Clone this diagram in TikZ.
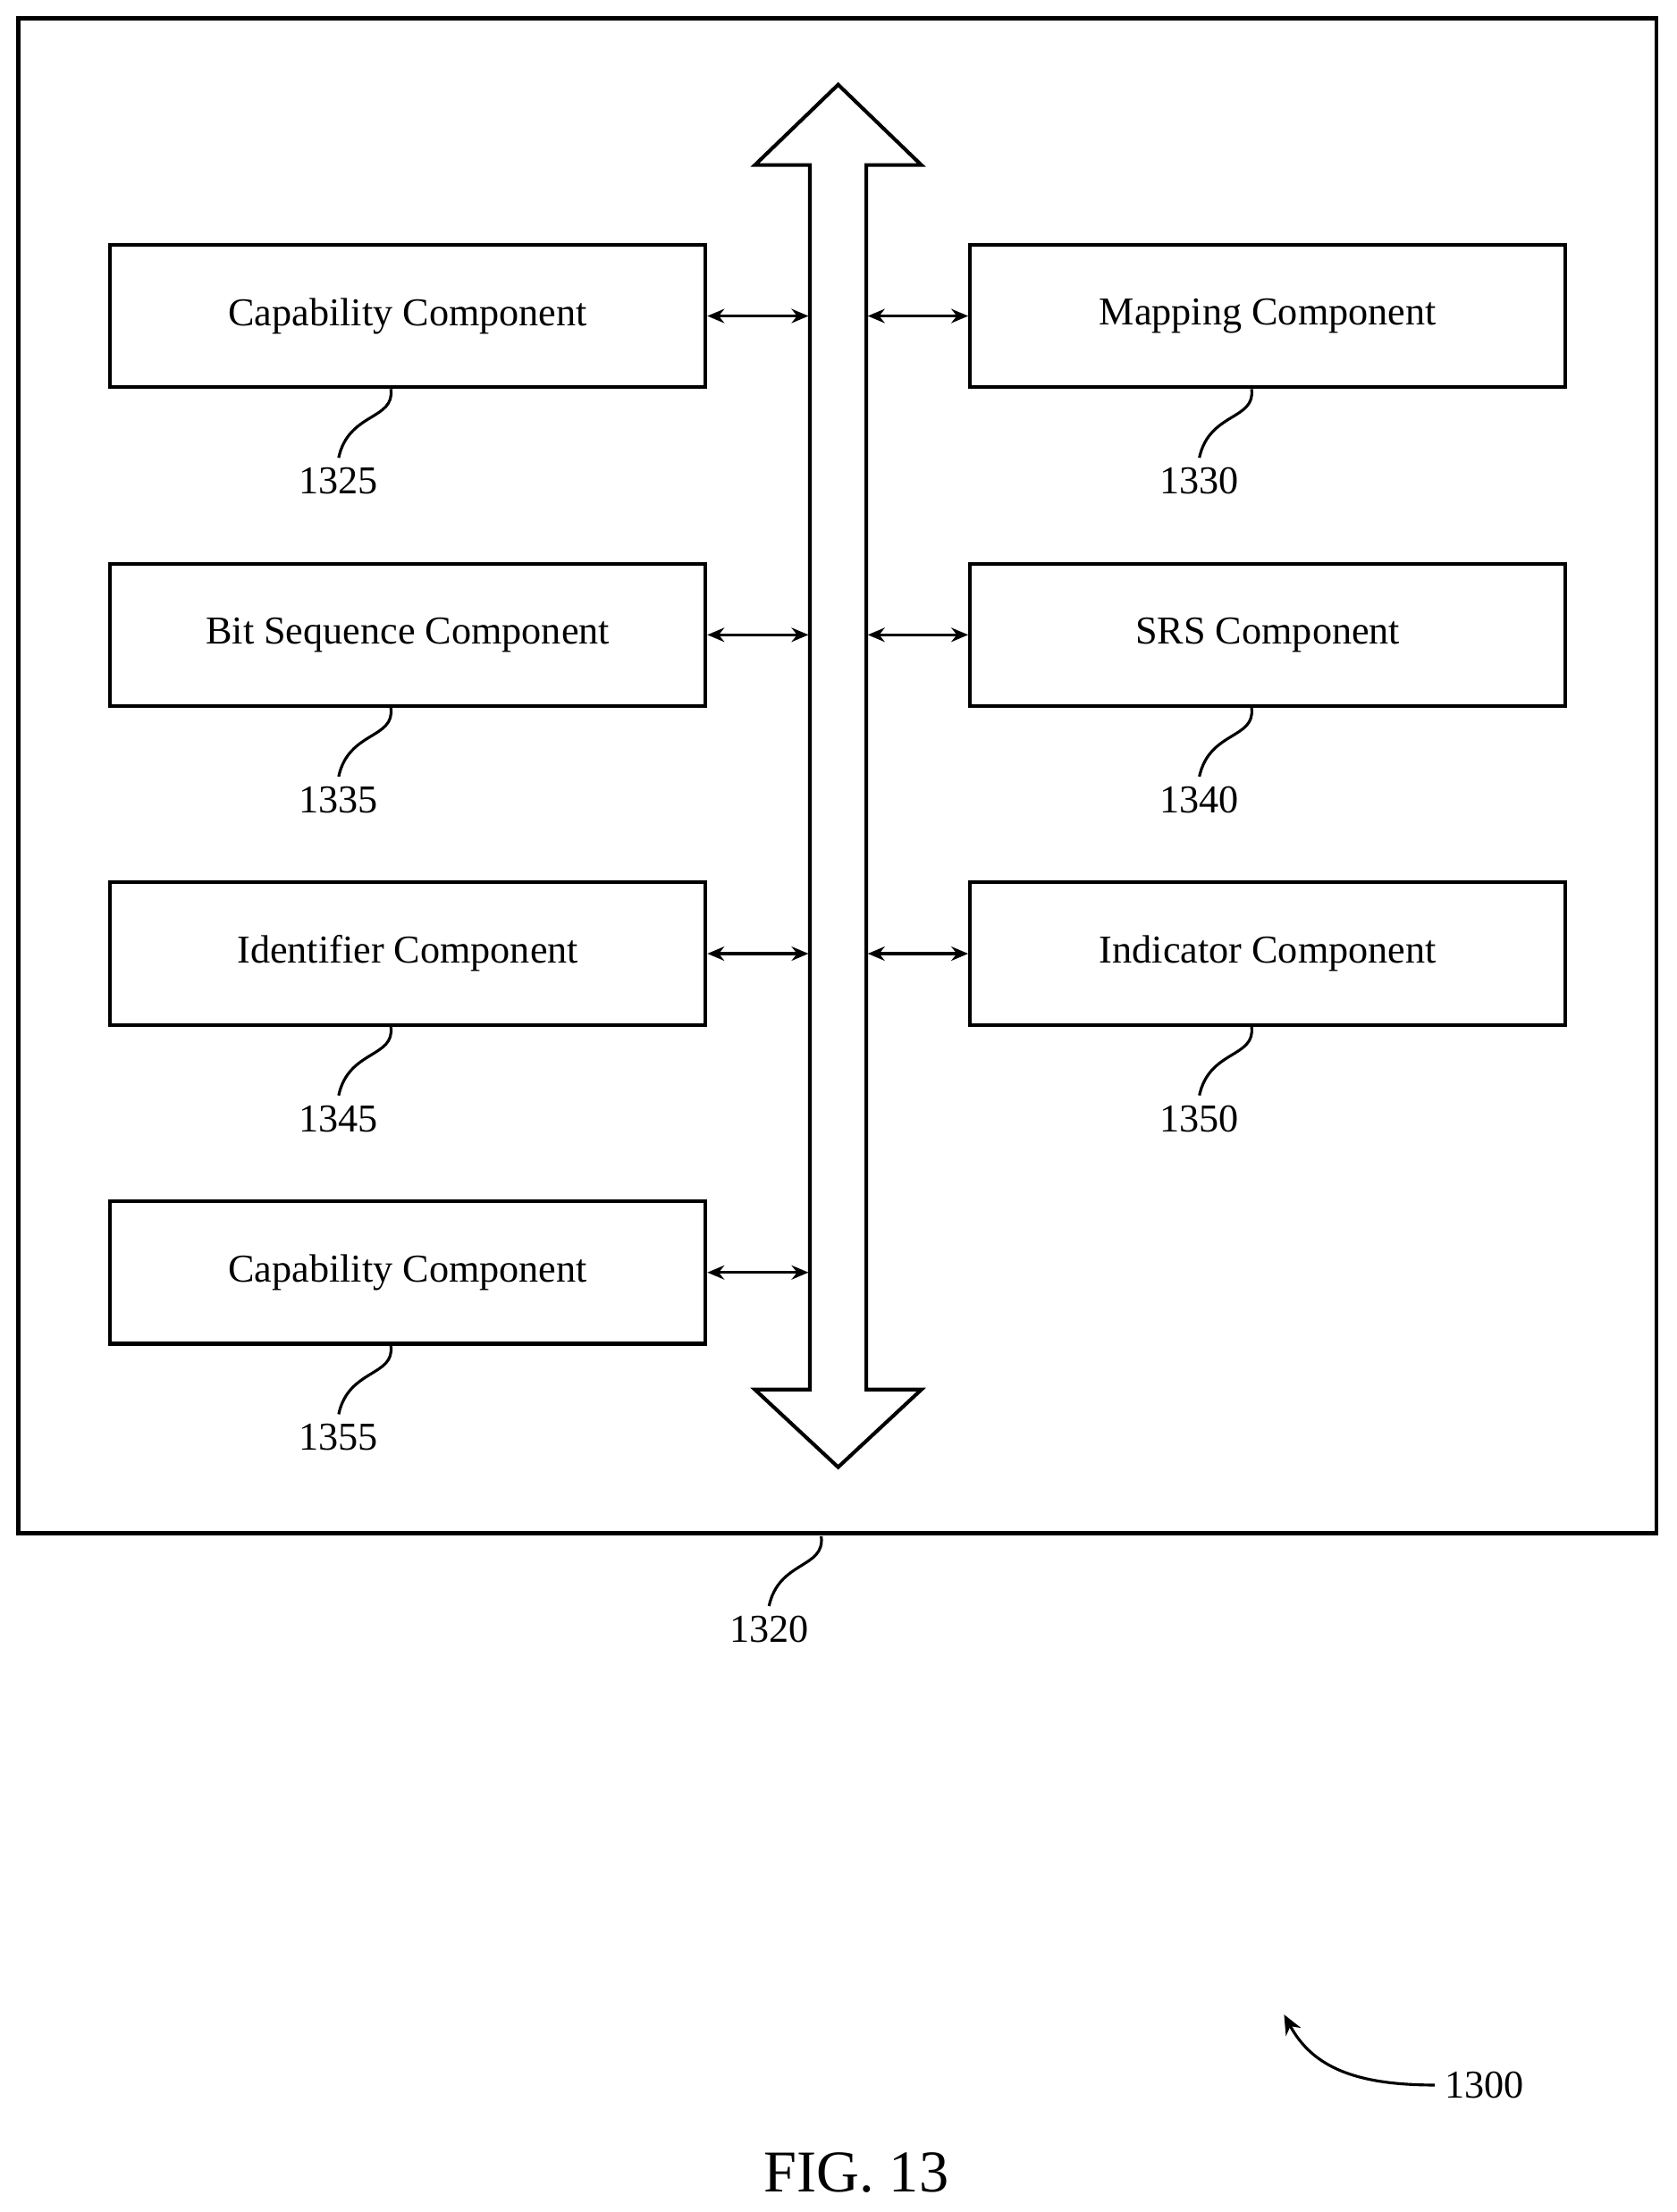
\documentclass[tikz,border=0pt]{standalone}
\usepackage{fontspec}
\setmainfont{Liberation Serif}
\usetikzlibrary{arrows.meta}
\begin{document}
\begin{tikzpicture}[x=0.5pt,y=-0.5pt,
  box/.style={draw,line width=1.3pt,minimum width=211pt,minimum height=50.5pt,inner sep=0,font=\fontsize{14}{16}\selectfont},
  lbl/.style={font=\fontsize{14}{16}\selectfont},
  conn/.style={line width=1pt,{Stealth[length=6pt,width=5pt]}-{Stealth[length=6pt,width=5pt]}},
  sq/.style={line width=1pt}]
\useasboundingbox (0,0) rectangle (1188,1568);
\draw[line width=1.5pt] (13,13) rectangle (1174,1087);
\coordinate (c1320) at (582,1089);
\draw[line width=1.3pt] (574,117) -- (535,117) -- (594,60) -- (653,117) -- (614,117) -- (614,985) -- (653,985) -- (594,1040) -- (535,985) -- (574,985) -- cycle;
\coordinate (bl) at (574,0); \coordinate (br) at (614,0);
\foreach \n/\t/\y/\num in {a/Capability Component/224/1325, b/Bit Sequence Component/450/1335, c/Identifier Component/676/1345, d/Capability Component/902/1355}{
  \node[box] (\n) at (289,\y) {\t};
  \coordinate (\n bus) at (573,\y);
  \draw[conn] (\n.east) -- (\n bus);
  \node[lbl] (\n l) at (240,\y+117) {\num};
  \draw[sq] (\n.south -| 277,0) .. controls (280,\y+74) and (247,\y+68) .. (\n l.north);
}
\foreach \n/\t/\y/\num in {e/Mapping Component/224/1330, f/SRS Component/450/1340, g/Indicator Component/676/1350}{
  \node[box] (\n) at (898.5,\y) {\t};
  \coordinate (\n bus) at (615,\y);
  \draw[conn] (\n.west) -- (\n bus);
  \node[lbl] (\n l) at (850,\y+117) {\num};
  \draw[sq] (\n.south -| 887,0) .. controls (890,\y+74) and (857,\y+68) .. (\n l.north);
}
\node[lbl] (l1320) at (545,1155) {1320};
\draw[sq] (c1320) .. controls (585,1112) and (552,1106) .. (l1320.north);
\node[lbl] (l1300) at (1052,1478) {1300};
\coordinate (t1300) at (910,1428);
\draw[line width=1pt,-{Stealth[length=7pt,width=6pt]}] (l1300.west) .. controls (960,1478) and (930,1465) .. (t1300);
\node[font=\fontsize{21}{24}\selectfont] (fig) at (607,1540) {FIG. 13};
\end{tikzpicture}
\end{document}
